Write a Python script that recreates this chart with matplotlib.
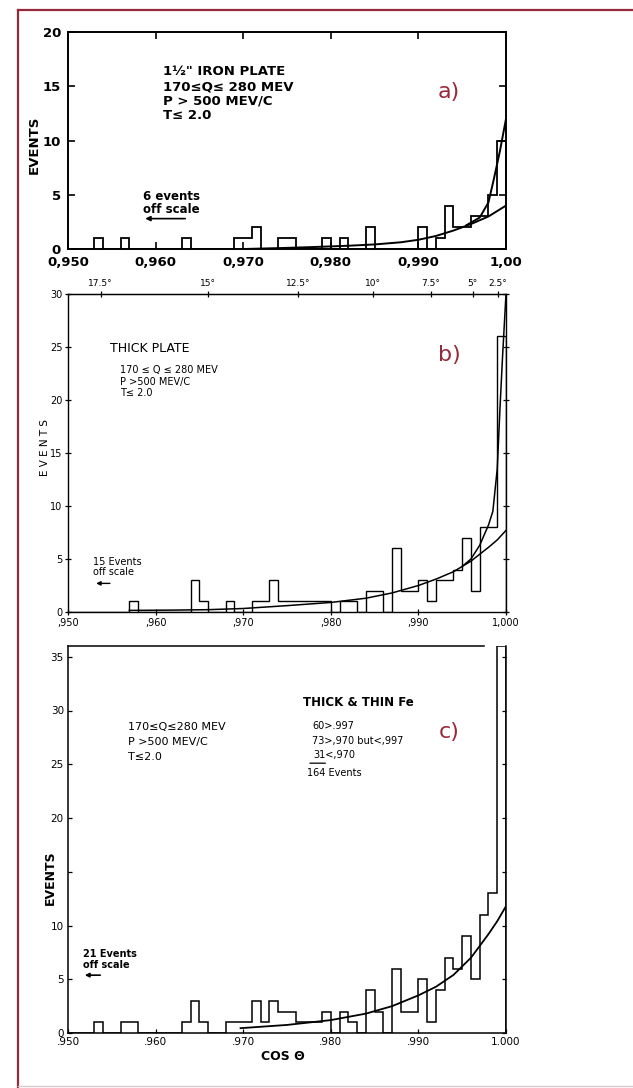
import numpy as np
import matplotlib
matplotlib.use('Agg')
import matplotlib.pyplot as plt
from matplotlib.lines import Line2D

plt.rcParams['font.family'] = ['DejaVu Sans']

W, H = 633, 1088

# bins of width 0.001 from 0.950 to 1.000
edges = np.round(np.arange(0.950, 1.0005, 0.001), 3)

# panel a) counts per bin (index -> count)
counts_a = {3: 1, 6: 1, 13: 1, 19: 1, 20: 1, 21: 2, 24: 1, 25: 1, 29: 1, 31: 1,
            34: 2, 40: 2, 42: 1, 43: 4, 44: 2, 45: 2, 46: 3, 47: 3, 48: 5, 49: 10}
# panel b)
counts_b = {7: 1, 14: 3, 15: 1, 18: 1, 21: 1, 22: 1, 23: 3, 24: 1, 25: 1, 26: 1,
            27: 1, 28: 1, 29: 1, 31: 1, 32: 1, 34: 2, 35: 2, 37: 6, 38: 2, 39: 2,
            40: 3, 41: 1, 42: 3, 43: 3, 44: 4, 45: 7, 46: 2, 47: 8, 48: 8, 49: 26}
# panel c)
counts_c = {3: 1, 6: 1, 7: 1, 13: 1, 14: 3, 15: 1, 18: 1, 19: 1, 20: 1, 21: 3,
            22: 1, 23: 3, 24: 2, 25: 2, 26: 1, 27: 1, 28: 1, 29: 2, 31: 2, 32: 1,
            34: 4, 35: 2, 37: 6, 38: 2, 39: 2, 40: 5, 41: 1, 42: 4, 43: 7, 44: 6,
            45: 9, 46: 5, 47: 11, 48: 13, 49: 36}

# fitted curves
curve_a1_x = [0.970, 0.974, 0.978, 0.982, 0.985, 0.988, 0.990, 0.992, 0.994, 0.996, 0.998, 0.999, 1.000]
curve_a1_y = [0.0, 0.08, 0.18, 0.3, 0.42, 0.62, 0.85, 1.2, 1.7, 2.3, 3.0, 3.5, 4.0]
curve_a2_x = [0.9955, 0.997, 0.998, 0.9986, 0.9993, 1.000]
curve_a2_y = [2.2, 2.9, 4.3, 6.4, 9.0, 12.0]

curve_b1_x = [0.957, 0.962, 0.966, 0.970, 0.975, 0.980, 0.984, 0.987, 0.990, 0.992, 0.994, 0.996, 0.998, 0.999, 1.000]
curve_b1_y = [0.15, 0.18, 0.22, 0.33, 0.6, 0.9, 1.3, 1.8, 2.5, 3.1, 3.8, 4.8, 6.1, 6.8, 7.7]
curve_b2_x = [0.995, 0.996, 0.997, 0.998, 0.9985, 0.999, 0.9993, 0.9996, 1.000]
curve_b2_y = [4.3, 5.0, 6.3, 8.2, 9.5, 13.5, 19.0, 24.0, 30.0]

curve_c_x = [0.9697, 0.975, 0.980, 0.984, 0.987, 0.990, 0.992, 0.994, 0.996, 0.998, 0.999, 1.000]
curve_c_y = [0.45, 0.75, 1.2, 1.8, 2.5, 3.5, 4.3, 5.4, 7.0, 9.2, 10.4, 11.8]

xticks = [0.950, 0.960, 0.970, 0.980, 0.990, 1.000]
xlabels_a = ['0,950', '0,960', '0,970', '0,980', '0,990', '1,00']
xlabels_b = [',950', ',960', ',970', ',980', ',990', '1,000']
xlabels_c = ['.950', '.960', '.970', '.980', '.990', '1.000']
yticks_a = [0, 5, 10, 15, 20]
yticks_b = [0, 5, 10, 15, 20, 25, 30]
yticks_c = [0, 5, 10, 15, 20, 25, 30, 35]
ylabels_c = ['0', '5', '10', '', '20', '25', '30', '35']
angles = [17.5, 15, 12.5, 10, 7.5, 5, 2.5]
angle_labels = ['17.5°', '15°', '12.5°', '10°', '7.5°', '5°', '2.5°']

red = '#962a3a'


def to_array(counts):
    vals = np.zeros(len(edges) - 1)
    for i, v in counts.items():
        vals[i] = v
    return vals


def ax_rect(left, top, right, bottom):
    return [left / W, 1 - bottom / H, (right - left) / W, (bottom - top) / H]


fig = plt.figure(figsize=(W / 100, H / 100), dpi=100)

# outer frame
fig.add_artist(Line2D([18 / W, 18 / W], [0, 1 - 10 / H], color=red, lw=1.6))
fig.add_artist(Line2D([18 / W, 1], [1 - 10 / H, 1 - 10 / H], color=red, lw=1.6))
fig.add_artist(Line2D([18 / W, 1], [2 / H, 2 / H], color='#d8c8cc', lw=1.0))

# ---- panel a
ax = fig.add_axes(ax_rect(68, 32, 506, 249))
ax.stairs(to_array(counts_a), edges, color='black', lw=1.3, baseline=0)
ax.plot(curve_a1_x, curve_a1_y, color='black', lw=1.4)
ax.plot(curve_a2_x, curve_a2_y, color='black', lw=1.4)
ax.set_xlim(0.950, 1.000)
ax.set_ylim(0, 20)
ax.set_xticks(xticks, labels=xlabels_a)
ax.set_yticks(yticks_a)
ax.tick_params(direction='in', length=5, width=1.2, labelsize=9.5, pad=5,
               top=True, right=True)
for lab in ax.get_xticklabels() + ax.get_yticklabels():
    lab.set_fontweight('bold')
for s in ax.spines.values():
    s.set_linewidth(1.4)
ann_a = ['1½" IRON PLATE', '170≤Q≤ 280 MEV', 'P > 500 MEV/C', 'T≤ 2.0']
for k, t in enumerate(ann_a):
    ax.text(0.9608, 16.0 - 1.35 * k, t, fontsize=9.5, fontweight='bold', va='baseline')
ax.text(0.9586, 4.5, '6 events', fontsize=8.5, fontweight='bold', va='baseline')
ax.text(0.9586, 3.3, 'off scale', fontsize=8.5, fontweight='bold', va='baseline')
ax.annotate('', xy=(0.9585, 2.8), xytext=(0.9637, 2.8),
            arrowprops=dict(arrowstyle='-|>', color='black', lw=1.2, mutation_scale=7))
ax.text(0.9935, 14.5, 'a)', color=red, fontsize=16, ha='center', va='center')
fig.text(34 / W, 1 - 145 / H, 'EVENTS', rotation=90, fontsize=9.5, fontweight='bold',
         ha='center', va='center')

# ---- panel b
ax = fig.add_axes(ax_rect(68, 294, 506, 612))
ax.stairs(to_array(counts_b), edges, color='black', lw=1.0, baseline=0)
ax.plot(curve_b1_x, curve_b1_y, color='black', lw=1.1)
ax.plot(curve_b2_x, curve_b2_y, color='black', lw=1.1)
ax.set_xlim(0.950, 1.000)
ax.set_ylim(0, 30)
ax.set_xticks(xticks, labels=xlabels_b)
ax.set_yticks(yticks_b)
ax.tick_params(direction='inout', length=4, width=0.9, labelsize=7, pad=2, right=True)
for s in ax.spines.values():
    s.set_linewidth(1.0)
sec = ax.secondary_xaxis('top')
sec.set_xticks(np.cos(np.radians(angles)), labels=angle_labels)
sec.tick_params(direction='inout', length=4, width=0.9, labelsize=6.5, pad=2)
ax.text(0.9548, 24.55, 'THICK PLATE', fontsize=9, va='baseline')
ann_b = ['170 ≤ Q ≤ 280 MEV', 'P >500 MEV/C', 'T≤ 2.0']
for k, t in enumerate(ann_b):
    ax.text(0.9559, 22.55 - 1.1 * k, t, fontsize=7, va='baseline')
ax.text(0.9529, 4.4, '15 Events', fontsize=7, va='baseline')
ax.text(0.9529, 3.45, 'off scale', fontsize=7, va='baseline')
ax.annotate('', xy=(0.9529, 2.7), xytext=(0.9551, 2.7),
            arrowprops=dict(arrowstyle='-|>', color='black', lw=1.0, mutation_scale=6))
ax.text(0.9935, 24.2, 'b)', color=red, fontsize=16, ha='center', va='center')
fig.text(45 / W, 1 - 447 / H, 'E V E N T S', rotation=90, fontsize=7.5,
         ha='center', va='center')

# ---- panel c
ax = fig.add_axes(ax_rect(68, 646, 506, 1033))
ax.stairs(to_array(counts_c), edges, color='black', lw=1.1, baseline=0)
ax.plot(curve_c_x, curve_c_y, color='black', lw=1.3)
ax.set_xlim(0.950, 1.000)
ax.set_ylim(0, 36)
ax.spines['top'].set_bounds(0.950, 0.9975)
ax.set_xticks(xticks, labels=xlabels_c)
ax.set_yticks(yticks_c, labels=ylabels_c)
ax.tick_params(direction='in', length=3, width=0.9, labelsize=7.5, pad=3, right=True)
for s in ax.spines.values():
    s.set_linewidth(1.1)
ann_c = ['170≤Q≤280 MEV', 'P >500 MEV/C', 'T≤2.0']
for k, t in enumerate(ann_c):
    ax.text(0.9568, 28.2 - 1.38 * k, t, fontsize=8, va='baseline')
ax.text(0.9768, 30.4, 'THICK & THIN Fe', fontsize=8.5, fontweight='bold', va='baseline')
ann_c2 = ['60>.997', '73>,970 but<,997', '31<,970']
ann_c2_x = [0.9779, 0.9779, 0.9780]
for k, t in enumerate(ann_c2):
    ax.text(ann_c2_x[k], 28.25 - 1.35 * k, t, fontsize=7, va='baseline')
ax.annotate('', xy=(0.9773, 25.1), xytext=(0.9797, 25.1),
            arrowprops=dict(arrowstyle='-', color='black', lw=0.9))
ax.text(0.9773, 23.9, '164 Events', fontsize=7, va='baseline')
ax.text(0.9517, 7.08, '21 Events', fontsize=7, fontweight='bold', va='baseline')
ax.text(0.9517, 6.05, 'off scale', fontsize=7, fontweight='bold', va='baseline')
ax.annotate('', xy=(0.9516, 5.38), xytext=(0.9540, 5.38),
            arrowprops=dict(arrowstyle='-|>', color='black', lw=1.2, mutation_scale=6))
ax.text(0.9935, 28.0, 'c)', color=red, fontsize=16, ha='center', va='center')
fig.text(50 / W, 1 - 878 / H, 'EVENTS', rotation=90, fontsize=9, fontweight='bold',
         ha='center', va='center')
fig.text(283 / W, 1 - 1057 / H, 'COS Θ', fontsize=9, fontweight='bold',
         ha='center', va='center')

fig.savefig('out.png', dpi=100)
